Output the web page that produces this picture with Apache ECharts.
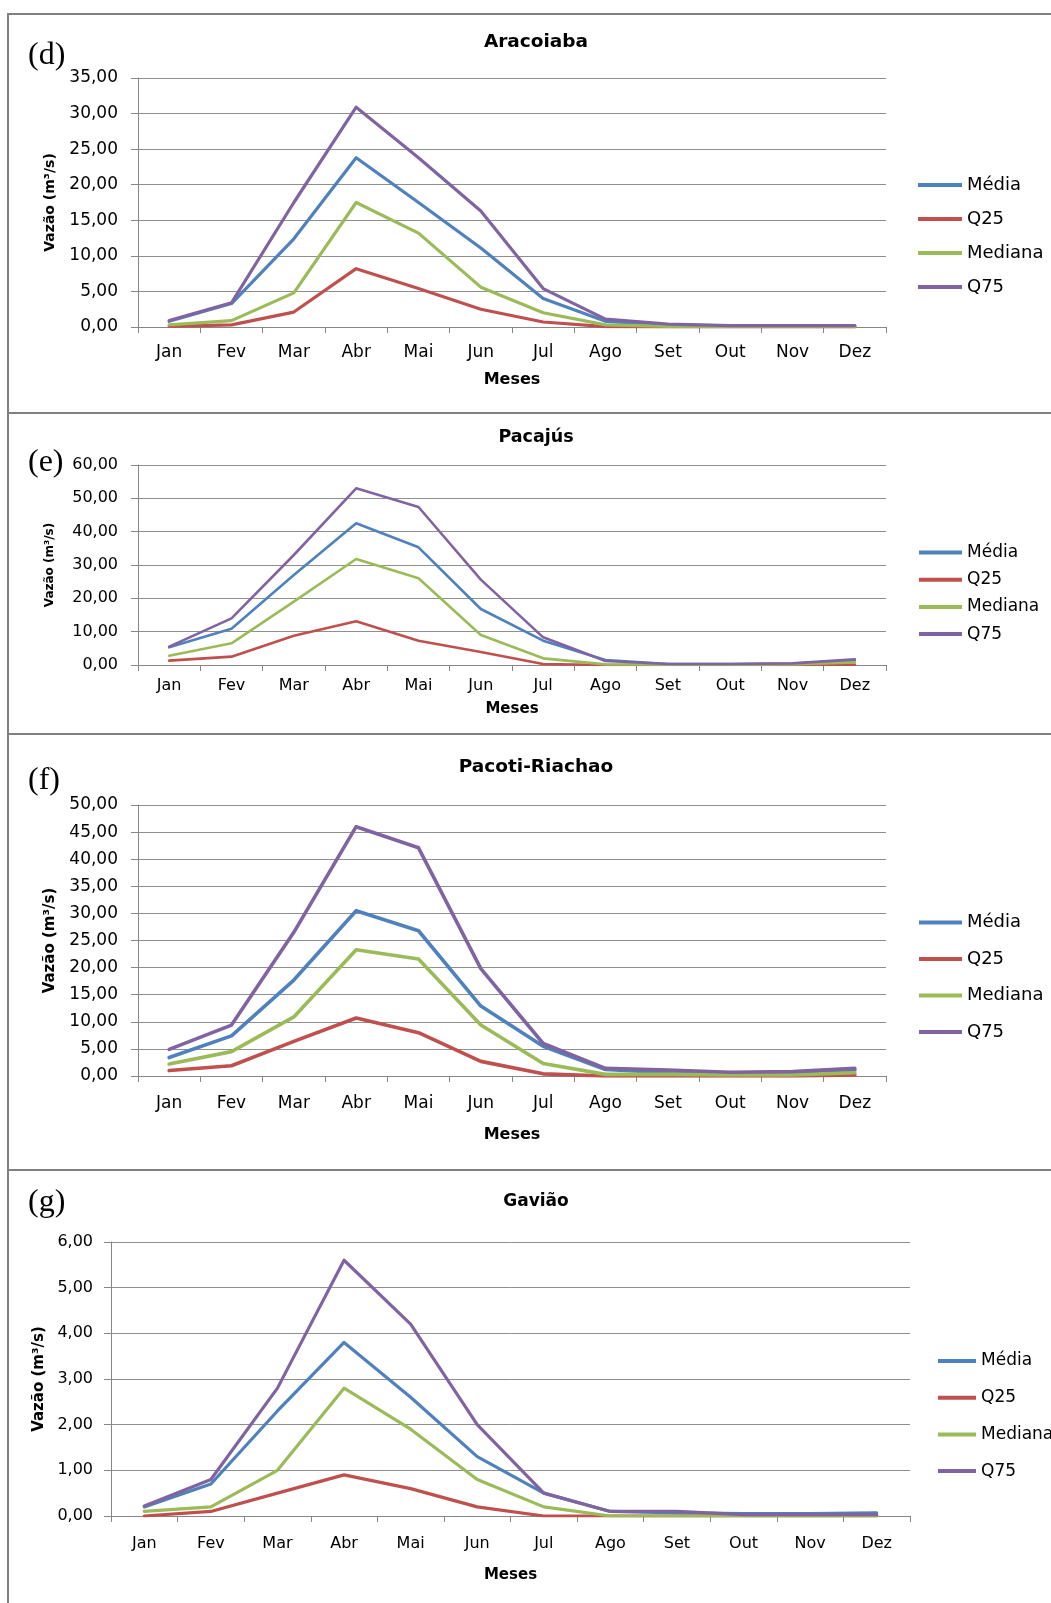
<!DOCTYPE html>
<html>
<head>
<meta charset="utf-8">
<title>Vazões mensais</title>
<script src="https://cdn.jsdelivr.net/npm/echarts@6/dist/echarts.min.js"></script>
<style>
  html, body { margin: 0; padding: 0; background: #ffffff; }
  #chart { width: 1051px; height: 1603px; }
</style>
</head>
<body>
<div id="chart"></div>
<script>
// Month categories (x axis)
const months = ['Jan', 'Fev', 'Mar', 'Abr', 'Mai', 'Jun', 'Jul', 'Ago', 'Set', 'Out', 'Nov', 'Dez'];
const seriesNames = ['Média', 'Q25', 'Mediana', 'Q75'];

// Y axis ranges: [min, max, interval]
const aracoiabaAxis = [0, 35, 5];
const pacajusAxis = [0, 60, 10];
const pacotiAxis = [0, 50, 5];
const gaviaoAxis = [0, 6, 1];

// (d) Aracoiaba — vazão (m³/s)
const aracoiabaMedia   = [0.8, 3.3, 12.4, 23.8, 17.5, 11.1, 4.0, 0.8, 0.3, 0.15, 0.15, 0.15];
const aracoiabaQ25     = [0.1, 0.3, 2.1, 8.2, 5.4, 2.5, 0.7, 0.05, 0, 0, 0, 0];
const aracoiabaMediana = [0.3, 0.9, 4.8, 17.5, 13.2, 5.6, 2.0, 0.3, 0.1, 0.05, 0.05, 0.05];
const aracoiabaQ75     = [0.9, 3.4, 17.5, 30.9, 23.8, 16.3, 5.4, 1.1, 0.4, 0.2, 0.2, 0.2];

// (e) Pacajús
const pacajusMedia   = [5.3, 10.9, 27.0, 42.5, 35.3, 16.8, 7.3, 1.5, 0.3, 0.3, 0.4, 1.4];
const pacajusQ25     = [1.3, 2.5, 8.8, 13.1, 7.3, 3.9, 0.3, 0, 0, 0, 0, 0.1];
const pacajusMediana = [2.8, 6.5, 19.0, 31.8, 26.0, 9.0, 2.0, 0.2, 0.1, 0.1, 0.2, 0.8];
const pacajusQ75     = [5.5, 14.0, 33.0, 53.0, 47.4, 25.6, 8.3, 1.2, 0.3, 0.3, 0.5, 1.7];

// (f) Pacoti-Riachao
const pacotiMedia   = [3.4, 7.4, 17.7, 30.5, 26.8, 12.9, 5.5, 1.2, 0.6, 0.4, 0.4, 1.1];
const pacotiQ25     = [1.0, 1.9, 6.4, 10.7, 8.0, 2.7, 0.4, 0, 0, 0, 0, 0.2];
const pacotiMediana = [2.2, 4.5, 10.9, 23.3, 21.6, 9.4, 2.3, 0.3, 0.3, 0.2, 0.2, 0.6];
const pacotiQ75     = [4.9, 9.4, 26.5, 46.0, 42.1, 19.8, 6.0, 1.4, 1.1, 0.7, 0.8, 1.4];

// (g) Gavião
const gaviaoMedia   = [0.2, 0.7, 2.3, 3.8, 2.6, 1.3, 0.5, 0.1, 0.07, 0.05, 0.05, 0.07];
const gaviaoQ25     = [0, 0.1, 0.5, 0.9, 0.6, 0.2, 0, 0, 0, 0, 0, 0];
const gaviaoMediana = [0.1, 0.2, 1.0, 2.8, 1.9, 0.8, 0.2, 0, 0, 0, 0, 0];
const gaviaoQ75     = [0.22, 0.8, 2.8, 5.6, 4.2, 2.0, 0.5, 0.1, 0.1, 0.03, 0.03, 0.03];

const colors = ['#4F81BD', '#C0504D', '#9BBB59', '#8064A2'];
const FONT = 'DejaVu Sans';
const AXIS_GRAY = '#868686';
const GRID_GRAY = '#8f8f8f';

// Layout of each panel
const panels = [
  {
    title: 'Aracoiaba', tag: '(d)', axis: aracoiabaAxis,
    values: [aracoiabaMedia, aracoiabaQ25, aracoiabaMediana, aracoiabaQ75],
    grid: { left: 138, top: 78, width: 748, height: 249 },
    titleY: 42, tagY: 56, titleSize: 18.5,
    tick: 17, labelMargin: 17, yLabelMargin: 20, nameGapX: 45, nameGapY: 81, yNameSize: 14, xNameSize: 16,
    lineW: 3.2,
    legend: { left: 918, top: 176, itemWidth: 44, size: 18, gap: 16 }
  },
  {
    title: 'Pacajús', tag: '(e)', axis: pacajusAxis,
    values: [pacajusMedia, pacajusQ25, pacajusMediana, pacajusQ75],
    grid: { left: 138, top: 465, width: 748, height: 200 },
    titleY: 437, tagY: 463, titleSize: 17.5,
    tick: 16, labelMargin: 12.5, yLabelMargin: 20, nameGapX: 36.5, nameGapY: 82, yNameSize: 12, xNameSize: 15,
    lineW: 2.6,
    legend: { left: 919, top: 544, itemWidth: 43, size: 17, gap: 10.2 }
  },
  {
    title: 'Pacoti-Riachao', tag: '(f)', axis: pacotiAxis,
    values: [pacotiMedia, pacotiQ25, pacotiMediana, pacotiQ75],
    grid: { left: 138, top: 805, width: 748, height: 271 },
    titleY: 767, tagY: 781, titleSize: 18.5,
    tick: 17, labelMargin: 19.5, yLabelMargin: 20, nameGapX: 51, nameGapY: 80, yNameSize: 15, xNameSize: 16,
    lineW: 3.6,
    legend: { left: 919, top: 913.5, itemWidth: 43, size: 18, gap: 18.5 }
  },
  {
    title: 'Gavião', tag: '(g)', axis: gaviaoAxis,
    values: [gaviaoMedia, gaviaoQ25, gaviaoMediana, gaviaoQ75],
    grid: { left: 111, top: 1242, width: 799, height: 274 },
    titleY: 1202, tagY: 1203, titleSize: 17,
    tick: 16, labelMargin: 19.5, yLabelMargin: 18, nameGapX: 51.5, nameGapY: 59, yNameSize: 15, xNameSize: 15,
    lineW: 3.2,
    legend: { left: 938, top: 1352.5, itemWidth: 38, size: 17, gap: 19.7 }
  }
];

const fmt = v => v.toFixed(2).replace('.', ',');

const grid = [], xAxis = [], yAxis = [], series = [], legend = [], graphic = [];

// Panel frame: outer border and separators
const frameStyle = { stroke: '#808080', lineWidth: 2 };
graphic.push({ type: 'line', shape: { x1: 8, y1: 14, x2: 1051, y2: 14 }, style: frameStyle, silent: true });
graphic.push({ type: 'line', shape: { x1: 8, y1: 13, x2: 8, y2: 1603 }, style: frameStyle, silent: true });
[413, 734, 1170].forEach(y => {
  graphic.push({ type: 'line', shape: { x1: 8, y1: y, x2: 1051, y2: y }, style: frameStyle, silent: true });
});

panels.forEach((p, i) => {
  grid.push(Object.assign({ containLabel: false }, p.grid));

  xAxis.push({
    type: 'category', gridIndex: i, data: months, boundaryGap: true,
    axisLine: { show: true, lineStyle: { color: AXIS_GRAY, width: 1 } },
    axisTick: { show: true, length: 6, alignWithLabel: false, lineStyle: { color: AXIS_GRAY } },
    axisLabel: { interval: 0, margin: p.labelMargin, color: '#000', fontFamily: FONT, fontSize: p.tick },
    splitLine: { show: false },
    name: 'Meses', nameLocation: 'middle', nameGap: p.nameGapX,
    nameTextStyle: { color: '#000', fontFamily: FONT, fontWeight: 'bold', fontSize: p.xNameSize }
  });

  yAxis.push({
    type: 'value', gridIndex: i, min: p.axis[0], max: p.axis[1], interval: p.axis[2],
    axisLine: { show: true, lineStyle: { color: AXIS_GRAY, width: 1 } },
    axisTick: { show: true, length: 7, lineStyle: { color: AXIS_GRAY } },
    axisLabel: { margin: p.yLabelMargin, color: '#000', fontFamily: FONT, fontSize: p.tick, formatter: fmt },
    splitLine: { show: true, lineStyle: { color: GRID_GRAY, width: 1 } },
    name: 'Vazão (m³/s)', nameLocation: 'middle', nameRotate: 90, nameGap: p.nameGapY,
    nameTextStyle: { color: '#000', fontFamily: FONT, fontWeight: 'bold', fontSize: p.yNameSize }
  });

  p.values.forEach((vals, k) => {
    series.push({
      type: 'line', name: seriesNames[k], xAxisIndex: i, yAxisIndex: i,
      data: vals, symbol: 'none', smooth: false, z: 2 + k,
      lineStyle: { color: colors[k], width: p.lineW, cap: 'round', join: 'round' },
      itemStyle: { color: colors[k] },
      emphasis: { disabled: true }
    });
  });

  legend.push({
    orient: 'vertical', left: p.legend.left, top: p.legend.top, padding: 0,
    icon: 'rect', itemWidth: p.legend.itemWidth, itemHeight: 4, itemGap: p.legend.gap,
    data: seriesNames, selectedMode: false,
    textStyle: { color: '#000', fontFamily: FONT, fontSize: p.legend.size }
  });

  graphic.push({
    type: 'text', silent: true,
    style: {
      text: p.title, x: 536, y: p.titleY,
      align: 'center', textAlign: 'center', verticalAlign: 'middle', textVerticalAlign: 'middle',
      fontFamily: FONT, fontWeight: 'bold', fontSize: p.titleSize, fill: '#000'
    }
  });
  graphic.push({
    type: 'text', silent: true,
    style: {
      text: p.tag, x: 28, y: p.tagY,
      align: 'left', textAlign: 'left', verticalAlign: 'middle', textVerticalAlign: 'middle',
      fontFamily: 'Liberation Serif', fontSize: 32, fill: '#000'
    }
  });
});

const chart = echarts.init(document.getElementById('chart'), null, { renderer: 'canvas', width: 1051, height: 1603 });
chart.setOption({
  backgroundColor: '#ffffff',
  animation: false,
  grid, xAxis, yAxis, series, legend, graphic
});
</script>
</body>
</html>
